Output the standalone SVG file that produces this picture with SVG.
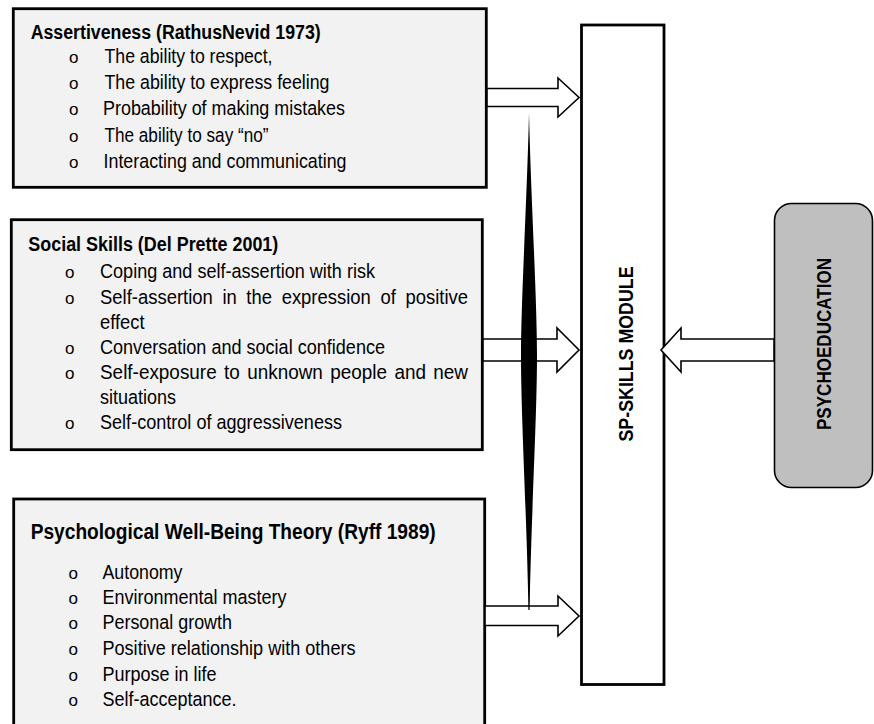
<svg xmlns="http://www.w3.org/2000/svg" width="874" height="724" viewBox="0 0 874 724">
<style>
.box{fill:#f2f2f2;stroke:#000;stroke-width:2.8}
.mod{fill:#fff;stroke:#000;stroke-width:2.8}
.psy{fill:#bfbfbf;stroke:#000;stroke-width:1.6}
.arr{fill:#fff;stroke:#000;stroke-width:1.6;stroke-linejoin:miter}
.t{font-family:"Liberation Sans",Arial,sans-serif;font-size:20.5px;fill:#000}
.b{font-weight:bold;font-size:20px}
.bul{font-family:"Liberation Sans",Arial,sans-serif;font-size:17px;fill:#000}
</style>
<rect width="874" height="724" fill="#fff"/>

<g id="node-assertiveness">
<rect class="box" x="13.3" y="8.7" width="473" height="178.6"/>
<text class="t b" x="30.7" y="39" textLength="290" lengthAdjust="spacingAndGlyphs">Assertiveness (RathusNevid 1973)</text>
<g class="bul"><text x="69" y="63">o</text><text x="69" y="89">o</text><text x="69" y="115">o</text><text x="69" y="141.5">o</text><text x="69" y="167.5">o</text></g>
<text class="t" x="104.5" y="63" textLength="168" lengthAdjust="spacingAndGlyphs">The ability to respect,</text>
<text class="t" x="104.5" y="89" textLength="225" lengthAdjust="spacingAndGlyphs">The ability to express feeling</text>
<text class="t" x="103" y="115" textLength="242" lengthAdjust="spacingAndGlyphs">Probability of making mistakes</text>
<text class="t" x="104.5" y="141.5" textLength="164" lengthAdjust="spacingAndGlyphs">The ability to say “no”</text>
<text class="t" x="103.5" y="167.5" textLength="243" lengthAdjust="spacingAndGlyphs">Interacting and communicating</text>
</g>

<g id="node-social-skills">
<rect class="box" x="11.3" y="219.7" width="471" height="230"/>
<text class="t b" x="28.3" y="250.5" textLength="250" lengthAdjust="spacingAndGlyphs">Social Skills (Del Prette 2001)</text>
<g class="bul"><text x="65" y="278">o</text><text x="65" y="304">o</text><text x="65" y="354">o</text><text x="65" y="379">o</text><text x="65" y="429">o</text></g>
<text class="t" x="100" y="278" textLength="275" lengthAdjust="spacingAndGlyphs">Coping and self-assertion with risk</text>
<text class="t" x="100" y="304" word-spacing="5" textLength="368" lengthAdjust="spacingAndGlyphs">Self-assertion in the expression of positive</text>
<text class="t" x="100" y="329" textLength="44.5" lengthAdjust="spacingAndGlyphs">effect</text>
<text class="t" x="100" y="354" textLength="285" lengthAdjust="spacingAndGlyphs">Conversation and social confidence</text>
<text class="t" x="100" y="379" word-spacing="2.3" textLength="368" lengthAdjust="spacingAndGlyphs">Self-exposure to unknown people and new</text>
<text class="t" x="100" y="404" textLength="76" lengthAdjust="spacingAndGlyphs">situations</text>
<text class="t" x="100" y="429" textLength="242" lengthAdjust="spacingAndGlyphs">Self-control of aggressiveness</text>
</g>

<g id="node-pwb">
<rect class="box" x="13.7" y="499" width="471" height="240"/>
<text class="t b" x="30.7" y="539" style="font-size:21.5px" textLength="405" lengthAdjust="spacingAndGlyphs">Psychological Well-Being Theory (Ryff 1989)</text>
<g class="bul"><text x="68.5" y="579">o</text><text x="68.5" y="604">o</text><text x="68.5" y="629">o</text><text x="68.5" y="655">o</text><text x="68.5" y="680.5">o</text><text x="68.5" y="705.5">o</text></g>
<text class="t" x="102.5" y="579" textLength="80" lengthAdjust="spacingAndGlyphs">Autonomy</text>
<text class="t" x="102.5" y="604" textLength="184" lengthAdjust="spacingAndGlyphs">Environmental mastery</text>
<text class="t" x="102.5" y="629" textLength="129.5" lengthAdjust="spacingAndGlyphs">Personal growth</text>
<text class="t" x="102.5" y="655" textLength="253" lengthAdjust="spacingAndGlyphs">Positive relationship with others</text>
<text class="t" x="102.5" y="680.5" textLength="114" lengthAdjust="spacingAndGlyphs">Purpose in life</text>
<text class="t" x="102.5" y="705.5" textLength="134" lengthAdjust="spacingAndGlyphs">Self-acceptance.</text>
</g>

<g id="node-sp-skills">
<rect class="mod" x="581.5" y="25" width="82.5" height="659.5"/>
<text class="t b" transform="translate(632.5,354) rotate(-90)" text-anchor="middle" textLength="175" lengthAdjust="spacingAndGlyphs">SP-SKILLS MODULE</text>
</g>

<g id="node-psychoeducation">
<rect class="psy" x="774.5" y="203.5" width="98" height="284" rx="17" ry="17"/>
<text class="t b" transform="translate(830.5,344) rotate(-90)" text-anchor="middle" textLength="172" lengthAdjust="spacingAndGlyphs">PSYCHOEDUCATION</text>
</g>

<g id="connectors">
<polygon class="arr" points="487,88.5 558,88.5 558,78 579,97.5 558,117 558,106.5 487,106.5"/>
<polygon class="arr" points="483,339 557,339 557,328 579,350 557,372 557,361 483,361"/>
<polygon class="arr" points="485,606 558,606 558,596 579,616 558,636 558,625.5 485,625.5"/>
<polygon class="arr" points="774,339 681,339 681,328 661,350 681,372 681,361 774,361"/>
<path d="M529,113 C531,200 537,300 537,355 C537,420 531,520 529.6,610 L528.4,610 C527,520 521,420 521,355 C521,300 527,200 529,113 Z" fill="#000"/>
</g>
</svg>
